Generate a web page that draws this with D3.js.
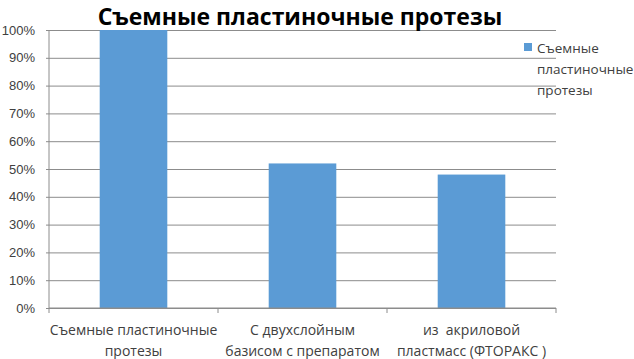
<!DOCTYPE html>
<html>
<head>
<meta charset="utf-8">
<script src="https://cdn.jsdelivr.net/npm/d3@7"></script>
<style>
  body { margin: 0; background: #fff; }
  svg { display: block; font-family: "Open Sans", "Noto Sans", sans-serif; }
</style>
</head>
<body>
<script>
const categories = [
	["Съемные пластиночные", "протезы"],
	["С двухслойным", "базисом с препаратом"],
	["из  акриловой", "пластмасс (ФТОРАКС )"]
];
const values = [1.0, 0.52, 0.48];
const yTicks = [0, 0.1, 0.2, 0.3, 0.4, 0.5, 0.6, 0.7, 0.8, 0.9, 1.0];
const seriesName = ["Съемные", "пластиночные", "протезы"];
const chartTitle = "Съемные пластиночные протезы";

const w = 634;
const h = 359;
const margin = {top: 30, right: 78, bottom: 51, left: 49};

const barColor = "#5b9bd5";
const textColor = "#404040";

const svg = d3.select("body")
	.append("svg")
	.attr("width", w)
	.attr("height", h);

const xScale = d3.scaleBand()
	.domain(d3.range(categories.length))
	.range([margin.left, w - margin.right])
	.paddingInner(0.6)
	.paddingOuter(0.3);

const yScale = d3.scaleLinear()
	.domain([0, 1])
	.range([h - margin.bottom, margin.top]);

// gridlines
const yAxis = d3.axisLeft(yScale)
	.tickValues(yTicks)
	.tickFormat(d3.format(".0%"))
	.tickSize(-(w - margin.right - margin.left))
	.tickPadding(14);

const gy = svg.append("g")
	.attr("transform", "translate(" + margin.left + ",0)")
	.call(yAxis);
gy.select(".domain").remove();
gy.selectAll(".tick line")
	.attr("stroke", "#8c8c8c")
	.attr("x1", -3);
gy.selectAll(".tick text")
	.attr("fill", textColor)
	.style("font-size", "13px");

// vertical axis line
svg.append("line")
	.attr("x1", margin.left).attr("x2", margin.left)
	.attr("y1", yScale(1)).attr("y2", yScale(0))
	.attr("stroke", "#8c8c8c");

// bars
svg.selectAll("rect.bar")
	.data(values)
	.enter()
	.append("rect")
	.attr("class", "bar")
	.attr("x", (d, i) => xScale(i))
	.attr("y", (d) => yScale(d))
	.attr("width", xScale.bandwidth())
	.attr("height", (d) => yScale(0) - yScale(d))
	.attr("fill", barColor);

// x axis with boundary ticks
const boundaries = d3.range(categories.length + 1);
const bScale = d3.scaleLinear()
	.domain([0, categories.length])
	.range([margin.left, w - margin.right]);

svg.append("line")
	.attr("x1", margin.left).attr("x2", w - margin.right)
	.attr("y1", yScale(0)).attr("y2", yScale(0))
	.attr("stroke", "#8c8c8c");

svg.selectAll("line.xtick")
	.data(boundaries)
	.enter()
	.append("line")
	.attr("class", "xtick")
	.attr("x1", (d) => bScale(d)).attr("x2", (d) => bScale(d))
	.attr("y1", yScale(0)).attr("y2", yScale(0) + 5)
	.attr("stroke", "#8c8c8c");

const labels = svg.selectAll("text.cat")
	.data(categories)
	.enter()
	.append("text")
	.attr("class", "cat")
	.attr("text-anchor", "middle")
	.attr("fill", textColor)
	.style("font-size", "14px")
	.style("white-space", "pre");
labels.selectAll("tspan")
	.data((d, i) => d.map((s) => ({s: s, i: i})))
	.enter()
	.append("tspan")
	.attr("x", (d) => xScale(d.i) + xScale.bandwidth() / 2)
	.attr("y", (d, j) => yScale(0) + 27 + j * 21)
	.text((d) => d.s);

// title
svg.append("text")
	.attr("x", 300)
	.attr("y", 25)
	.attr("text-anchor", "middle")
	.attr("fill", "#000")
	.style("font-size", "23px")
	.style("font-weight", "bold")
	.text(chartTitle);

// legend
const legend = svg.append("g")
	.attr("transform", "translate(524,43)");
legend.append("rect")
	.attr("width", 8)
	.attr("height", 8)
	.attr("fill", barColor);
legend.append("text")
	.attr("fill", textColor)
	.style("font-size", "13.5px")
	.selectAll("tspan")
	.data(seriesName)
	.enter()
	.append("tspan")
	.attr("x", 13)
	.attr("y", (d, i) => 10 + i * 21)
	.text((d) => d);
</script>
</body>
</html>
